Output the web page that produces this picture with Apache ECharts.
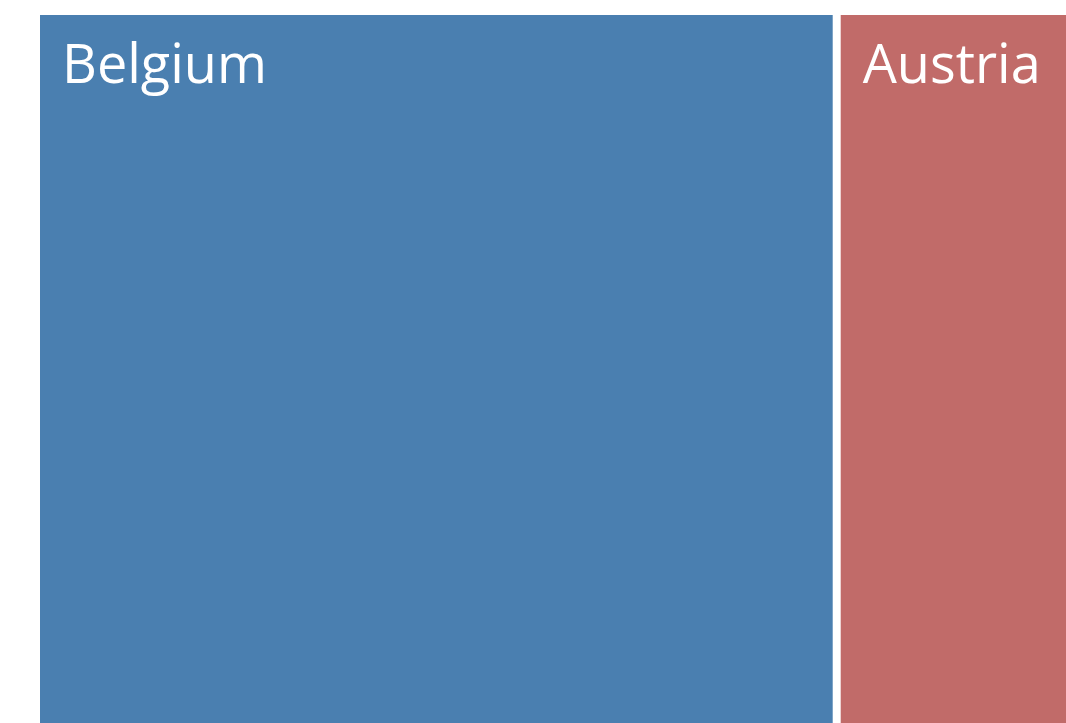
<!DOCTYPE html>
<html>
<head>
<meta charset="utf-8">
<script src="https://cdn.jsdelivr.net/npm/echarts@6/dist/echarts.min.js"></script>
<style>
  html, body { margin: 0; padding: 0; background: #fff; }
  #chart { width: 1066px; height: 723px; }
</style>
</head>
<body>
<div id="chart"></div>
<script>
const countries = ['Belgium', 'Austria'];
const values = [79.2, 30];
const colors = ['#4a7fb0', '#c16b69'];

const chart = echarts.init(document.getElementById('chart'));

let data = countries.map((name, i) => ({
    name: name,
    value: values[i],
    itemStyle: { color: colors[i] }
}));

chart.setOption({
    animation: false,
    series: [
        {
            type: 'treemap',
            left: 40,
            top: 15,
            width: 1096,
            height: 900,
            roam: false,
            nodeClick: false,
            sort: false,
            squareRatio: 1,
            breadcrumb: { show: false },
            label: {
                show: true,
                position: [17, 21],
                color: '#fff',
                fontFamily: '"Open Sans"',
                fontSize: 54,
                formatter: '{b}'
            },
            itemStyle: { borderWidth: 0, gapWidth: 8 },
            levels: [
                { itemStyle: { borderWidth: 0, gapWidth: 8 } }
            ],
            data: data
        }
    ]
});
</script>
</body>
</html>
